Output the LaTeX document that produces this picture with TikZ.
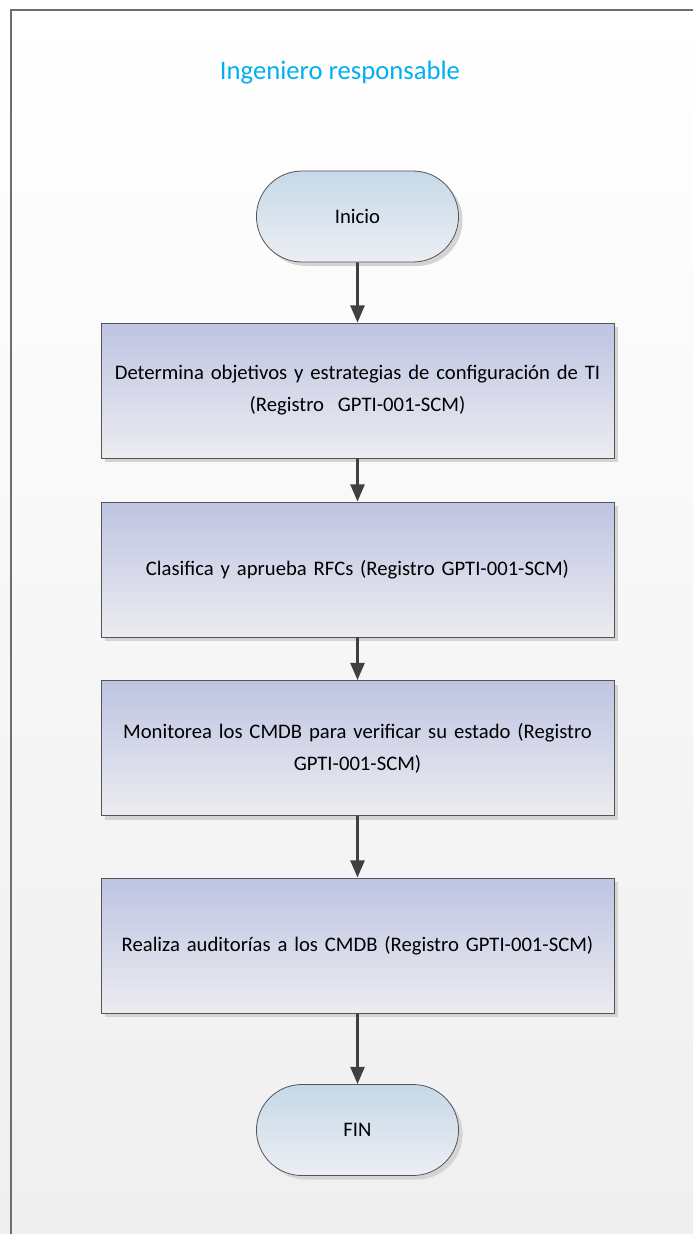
\documentclass[tikz,border=0pt]{standalone}
\usepackage{fontspec}
\setmainfont{Carlito}
\usetikzlibrary{arrows.meta, positioning, shapes.misc, shadows}
\definecolor{titleblue}{RGB}{0,176,240}
\definecolor{mydark}{RGB}{64,64,64}
\definecolor{edgegray}{RGB}{85,85,85}
\definecolor{framegray}{RGB}{110,110,110}
\definecolor{bgbottom}{RGB}{239,239,239}
\definecolor{boxtop}{RGB}{190,196,226}
\definecolor{boxbot}{RGB}{236,236,240}
\definecolor{termtop}{RGB}{198,216,232}
\definecolor{termbot}{RGB}{236,239,243}
\definecolor{shadowgray}{RGB}{212,212,212}
\tikzset{
  procbox/.style={rectangle, draw=edgegray, top color=boxtop, bottom color=boxbot,
    minimum width=384.75pt, minimum height=101.25pt, text width=375pt, align=center,
    font=\fontsize{15.5}{24}\selectfont, line width=0.6pt,
    drop shadow={shadow xshift=3pt, shadow yshift=-3pt, fill=shadowgray, opacity=1}},
  termnode/.style={rounded rectangle, draw=edgegray, top color=termtop, bottom color=termbot,
    minimum width=158.25pt, minimum height=68.25pt, align=center,
    font=\fontsize{15.5}{24}\selectfont, line width=0.6pt,
    drop shadow={shadow xshift=3pt, shadow yshift=-3pt, fill=shadowgray, opacity=1}},
  flowarrow/.style={-{Triangle[width=10.5pt,length=13pt]}, line width=2.2pt, color=mydark}
}
\begin{document}
\begin{tikzpicture}[x=0.75pt, y=-0.75pt]
  \useasboundingbox (0,0) rectangle (693,1234);
  % page background and lane frame
  \shade[top color=white, bottom color=bgbottom] (0,0) rectangle (693,1234);
  \draw[framegray, line width=1.2pt] (11,1234) -- (11,10) -- (693,10);

  % lane title
  \node[text=titleblue, font=\fontsize{20}{24}\selectfont] (lane) at (340,73) {Ingeniero responsable};

  % steps
  \node[termnode] (inicio) at (357.5,216.5) {Inicio};
  \node[procbox] (objetivos) at (357.5,390.5)
    {Determina objetivos y estrategias de configuración de TI\\(Registro\ \ GPTI-001-SCM)};
  \node[procbox] (rfcs) at (357.5,569.5)
    {Clasifica y aprueba RFCs (Registro GPTI-001-SCM)};
  \node[procbox] (monitorea) at (357.5,748)
    {Monitorea los CMDB para verificar su estado (Registro\\GPTI-001-SCM)};
  \node[procbox] (auditorias) at (357.5,945.5)
    {Realiza auditorías a los CMDB (Registro GPTI-001-SCM)};
  \node[termnode] (fin) at (357.5,1130) {FIN};

  % connectors
  \draw[flowarrow] (inicio) -- (objetivos);
  \draw[flowarrow] (objetivos) -- (rfcs);
  \draw[flowarrow] (rfcs) -- (monitorea);
  \draw[flowarrow] (monitorea) -- (auditorias);
  \draw[flowarrow] (auditorias) -- (fin);
\end{tikzpicture}
\end{document}
